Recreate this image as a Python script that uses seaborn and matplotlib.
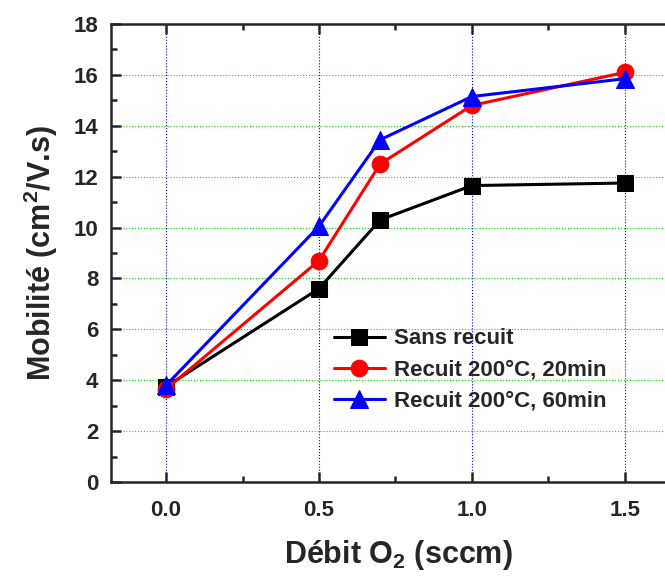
import pandas as pd
import matplotlib
matplotlib.use("Agg")
import matplotlib.pyplot as plt
import seaborn as sns

# Données
debit = [0.0, 0.5, 0.7, 1.0, 1.5]
sans_recuit = [3.75, 7.6, 10.3, 11.65, 11.75]
recuit_20 = [3.65, 8.7, 12.5, 14.8, 16.1]
recuit_60 = [3.8, 10.05, 13.45, 15.15, 15.85]
series = ["Sans recuit", "Recuit 200°C, 20min", "Recuit 200°C, 60min"]

df = pd.DataFrame({
    "debit": debit * 3,
    "mobilite": sans_recuit + recuit_20 + recuit_60,
    "serie": [series[0]] * 5 + [series[1]] * 5 + [series[2]] * 5,
})

sns.set_style("ticks")
plt.rcParams["font.family"] = ["Liberation Sans", "DejaVu Sans"]
plt.rcParams["font.weight"] = "bold"
plt.rcParams["mathtext.fontset"] = "custom"
plt.rcParams["mathtext.rm"] = "Liberation Sans:bold"
plt.rcParams["mathtext.bf"] = "Liberation Sans:bold"
plt.rcParams["mathtext.it"] = "Liberation Sans:bold"

fig = plt.figure(figsize=(6.65, 5.77), dpi=100)
ax = fig.add_axes([111 / 665, 95 / 577, 575 / 665, 458 / 577])

couleurs = {series[0]: "black", series[1]: "red", series[2]: "blue"}
marqueurs = {series[0]: "s", series[1]: "o", series[2]: "^"}
tailles = {series[0]: 11, series[1]: 12, series[2]: 13}

for s in series:
    sns.lineplot(data=df[df["serie"] == s], x="debit", y="mobilite",
                 color=couleurs[s], marker=marqueurs[s], markersize=tailles[s],
                 markeredgecolor=couleurs[s], linewidth=2.2, label=s, ax=ax)

ax.set_xlim(-0.18, 1.70)
ax.set_ylim(0, 18)
ax.set_xticks([0.0, 0.5, 1.0, 1.5])
ax.set_xticklabels(["0.0", "0.5", "1.0", "1.5"])
ax.set_xticks([0.25, 0.75, 1.25], minor=True)
ax.set_yticks(range(0, 19, 2))
ax.set_yticks(range(1, 18, 2), minor=True)

ax.grid(axis="x", which="major", color="blue", linestyle=":", linewidth=0.8)
ax.grid(axis="y", which="major", color="#00dd00", linestyle=":", linewidth=0.8)

for sp in ax.spines.values():
    sp.set_linewidth(1.8)
ax.tick_params(which="both", direction="in", top=True, right=False, width=1.8)
ax.tick_params(axis="x", labelsize=16, pad=13)
ax.tick_params(axis="y", labelsize=16, pad=9)
ax.tick_params(which="major", length=7)
ax.tick_params(which="minor", length=4)

ax.set_xlabel("Débit O$_2$ (sccm)", fontsize=22, fontweight="bold", labelpad=12)
ax.set_ylabel("Mobilité (cm$^2$/V.s)", fontsize=22, fontweight="bold", labelpad=10)

ax.legend(loc="upper left", bbox_to_anchor=(0.372, 0.355), frameon=False,
          fontsize=16, handlelength=2.3, handletextpad=0.4,
          labelspacing=0.45, borderaxespad=0)

fig.savefig("out.png", dpi=100)
